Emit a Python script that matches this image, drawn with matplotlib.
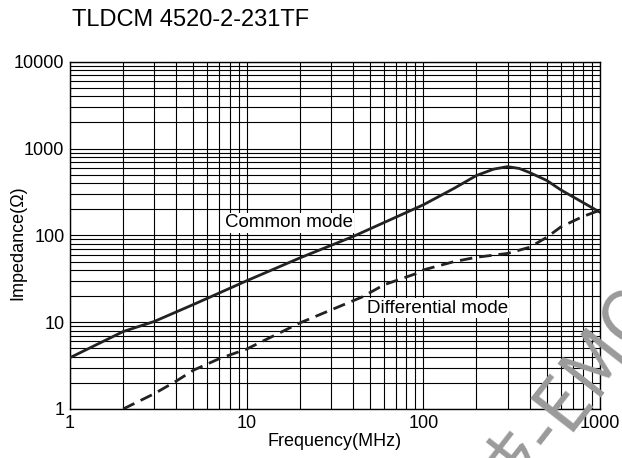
import numpy as np
import matplotlib.pyplot as plt
from matplotlib.ticker import FixedLocator, FixedFormatter, LogLocator, NullFormatter

plt.rcParams['font.family'] = ['Liberation Sans', 'DejaVu Sans']

title = 'TLDCM 4520-2-231TF'

# common mode impedance (MHz, ohm)
common_freq = [1, 2, 3, 5, 10, 20, 40, 100, 150, 200, 250, 300, 350, 400, 500, 600, 800, 1000]
common_z = [3.9, 7.8, 10.2, 16, 30, 55, 97, 225, 350, 490, 580, 620, 590, 530, 430, 335, 240, 185]

# differential mode impedance (MHz, ohm)
diff_freq = [2, 3, 4, 5, 7, 10, 20, 45, 60, 90, 100, 150, 200, 300, 400, 500, 600, 800, 1000]
diff_z = [1.0, 1.5, 2.1, 2.8, 3.8, 4.9, 9.8, 19.5, 27, 36, 40, 50, 56, 62, 73, 95, 125, 165, 195]

x_ticks = [1, 10, 100, 1000]
y_ticks = [1, 10, 100, 1000, 10000]

fig = plt.figure(figsize=(6.22, 4.58), dpi=100)
ax = fig.add_axes([0.1125, 0.107, 0.852, 0.758])

ax.set_xscale('log')
ax.set_yscale('log')
ax.set_xlim(1, 1000)
ax.set_ylim(1, 10000)

ax.xaxis.set_major_locator(FixedLocator(x_ticks))
ax.xaxis.set_major_formatter(FixedFormatter([str(v) for v in x_ticks]))
ax.yaxis.set_major_locator(FixedLocator(y_ticks))
ax.yaxis.set_major_formatter(FixedFormatter([str(v) for v in y_ticks]))
ax.xaxis.set_minor_locator(LogLocator(base=10, subs=np.arange(2, 10)))
ax.yaxis.set_minor_locator(LogLocator(base=10, subs=np.arange(2, 10)))
ax.xaxis.set_minor_formatter(NullFormatter())
ax.yaxis.set_minor_formatter(NullFormatter())

ax.grid(True, which='both', color='black', linewidth=0.8)
ax.tick_params(which='both', length=0, labelsize=13, pad=4)
for s in ax.spines.values():
    s.set_linewidth(1.0)

ax.plot(common_freq, common_z, color='#222222', linewidth=2.0, zorder=3)
ax.plot(diff_freq, diff_z, color='#222222', linewidth=2.0,
        linestyle=(0, (4.5, 2.5)), zorder=3)

box = dict(facecolor='white', edgecolor='none', pad=1)
ax.text(7.5, 140, 'Common mode', fontsize=13.5, ha='left', va='center',
        bbox=box, zorder=4)
ax.text(48, 14.5, 'Differential mode', fontsize=13.5, ha='left', va='center',
        bbox=box, zorder=4)

ax.set_xlabel('Frequency(MHz)', fontsize=13, labelpad=1)
ax.set_ylabel('Impedance(Ω)', fontsize=13)
ax.yaxis.set_label_coords(-0.083, 0.48)

fig.text(72 / 622, 1 - 20 / 458, title, fontsize=17, ha='left', va='center')

# watermark, partly off the edge as in the source
fig.text(568 / 622, 1 - 402 / 458, '技-EMC', fontsize=54, color='#9a9a9a',
         family=['Noto Sans CJK SC', 'DejaVu Sans'], rotation=52,
         ha='center', va='center', zorder=10)

fig.savefig('out.png', dpi=100)
